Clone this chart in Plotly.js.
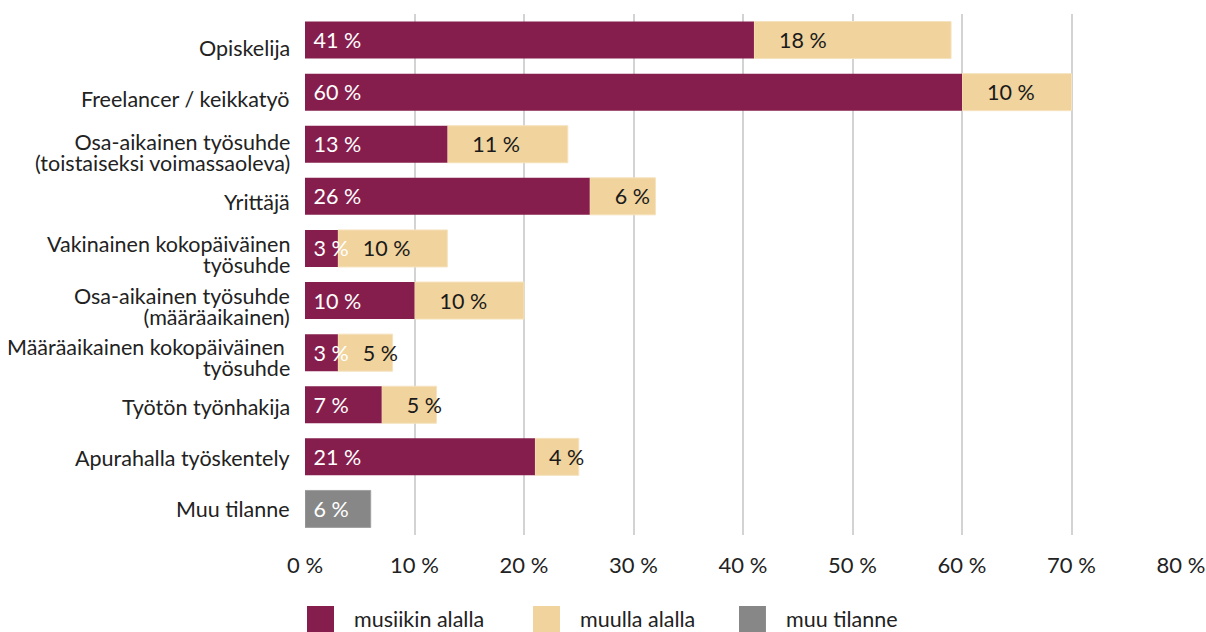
<!DOCTYPE html>
<html>
<head>
<meta charset="utf-8">
<script src="https://cdn.plot.ly/plotly-3.0.1.min.js"></script>
<style>
  html, body { margin: 0; padding: 0; background: #ffffff; }
  #chart { width: 1206px; height: 632px; }
</style>
</head>
<body>
<div id="chart"></div>
<script>
const categories = [
  "Opiskelija",
  "Freelancer / keikkatyö",
  "Osa-aikainen työsuhde<br>(toistaiseksi voimassaoleva)",
  "Yrittäjä",
  "Vakinainen kokopäiväinen<br>työsuhde",
  "Osa-aikainen työsuhde<br>(määräaikainen)",
  "Määräaikainen kokopäiväinen\u00A0<br>työsuhde",
  "Työtön työnhakija",
  "Apurahalla työskentely",
  "Muu tilanne"
];
const musiikinAlalla = [41, 60, 13, 26, 3, 10, 3, 7, 21, null];
const muullaAlalla   = [18, 10, 11, 6, 10, 10, 5, 5, 4, null];
const muuTilanne     = [null, null, null, null, null, null, null, null, null, 6];
const seriesNames = ["musiikin alalla", "muulla alalla", "muu tilanne"];
const tickVals = [0, 10, 20, 30, 40, 50, 60, 70, 80];
const tickText = ["0 %", "10 %", "20 %", "30 %", "40 %", "50 %", "60 %", "70 %", "80 %"];

const colors = ["#861e4d", "#f0d39d", "#878787"];
const FONT = "Lato, 'Open Sans', sans-serif";
const FS = 21.5;
const NB = "\u00A0";

const W = 1206, H = 632;
const M = { l: 305, r: 25, t: 14, b: 97 };
const X_MAX = 80;
const pxPerUnit = (W - M.l - M.r) / X_MAX;

const baseTan = musiikinAlalla.map(v => v == null ? 0 : v);

// label padding: up to 4 non-breaking spaces, fewer when the bar is narrow
function paddedLabels(arr, maxPad) {
  return arr.map(v => {
    if (v == null) return "";
    const s = v + " %";
    const textW = s.length * 0.45 * FS;
    const free = v * pxPerUnit - 3 - textW;
    const n = Math.max(0, Math.min(maxPad, Math.floor(free / (0.193 * FS))));
    return NB.repeat(n) + s;
  });
}

const common = {
  type: "bar",
  orientation: "h",
  y: categories,
  textposition: "inside",
  insidetextanchor: "start",
  constraintext: "none",
  textangle: 0,
  hoverinfo: "skip",
  showlegend: false,
  cliponaxis: false
};

const traces = [
  Object.assign({}, common, {
    name: seriesNames[1],
    x: muullaAlalla,
    base: baseTan,
    text: paddedLabels(muullaAlalla, 4),
    texttemplate: "%{text}",
    marker: { color: colors[1], line: { color: "#f5e2bd", width: 1 } },
    textfont: { family: FONT, size: FS, color: "#1a1a1a" }
  }),
  Object.assign({}, common, {
    name: seriesNames[0],
    x: musiikinAlalla,
    text: musiikinAlalla.map(v => v == null ? "" : NB + v + " %"),
    texttemplate: "%{text}",
    marker: { color: colors[0], line: { width: 0 } },
    textfont: { family: FONT, size: FS, color: "#ffffff" }
  }),
  Object.assign({}, common, {
    name: seriesNames[2],
    x: muuTilanne,
    text: muuTilanne.map(v => v == null ? "" : NB + v + " %"),
    texttemplate: "%{text}",
    marker: { color: colors[2], line: { color: "#a0a0a0", width: 1 } },
    textfont: { family: FONT, size: FS, color: "#ffffff" }
  })
];

// category labels as annotations; two-line labels use a smaller base font so
// the line spacing (1.3em of the base) is as tight as in the reference,
// while each line is drawn at full size through a span.
const LINE_GAP = 21;
const annotations = [];
categories.forEach((cat, i) => {
  const lines = cat.split("<br>");
  const rowShift = -8 * (1 - i / (categories.length - 1));
  const multi = lines.length > 1;
  const text = multi
    ? lines.map(l => '<span style="font-size:' + FS + 'px">' + l + '</span>').join("<br>")
    : cat;
  annotations.push({
    xref: "paper", yref: "y",
    x: 0, y: cat,
    xanchor: "right", yanchor: "middle",
    align: "right",
    xshift: -13, yshift: rowShift + (multi ? -2 : 0),
    text: text, showarrow: false,
    font: { family: FONT, size: multi ? LINE_GAP / 1.3 : FS, color: "#222222" }
  });
});

// custom legend (large square swatches)
const legendX = [0.0023, 0.2603, 0.4954];
const sw = 0.0308;
const shapes = seriesNames.map((n, i) => ({
  type: "rect", xref: "paper", yref: "paper",
  x0: legendX[i], x1: legendX[i] + sw, y0: -0.1862, y1: -0.1363,
  fillcolor: colors[i], line: { width: 0 }
}));
seriesNames.forEach((n, i) => {
  annotations.push({
    xref: "paper", yref: "paper",
    x: legendX[i] + sw + 0.0205, y: -0.1612,
    xanchor: "left", yanchor: "middle",
    text: n, showarrow: false,
    font: { family: FONT, size: FS, color: "#222222" }
  });
});

const layout = {
  width: W,
  height: H,
  margin: M,
  paper_bgcolor: "#ffffff",
  plot_bgcolor: "#ffffff",
  barmode: "overlay",
  bargap: 0.29,
  font: { family: FONT, size: FS, color: "#222222" },
  showlegend: false,
  xaxis: {
    range: [0, X_MAX],
    tickvals: tickVals,
    ticktext: tickText,
    showgrid: true,
    gridcolor: "#d3d3d3",
    gridwidth: 2,
    zeroline: false,
    showline: false,
    ticks: "",
    ticklabelstandoff: 15,
    tickfont: { family: FONT, size: 22, color: "#222222" },
    fixedrange: true
  },
  yaxis: {
    autorange: "reversed",
    showgrid: false,
    zeroline: false,
    showline: false,
    ticks: "",
    showticklabels: false,
    fixedrange: true
  },
  shapes: shapes,
  annotations: annotations
};

Plotly.newPlot("chart", traces, layout, { displayModeBar: false, staticPlot: true });
</script>
</body>
</html>
